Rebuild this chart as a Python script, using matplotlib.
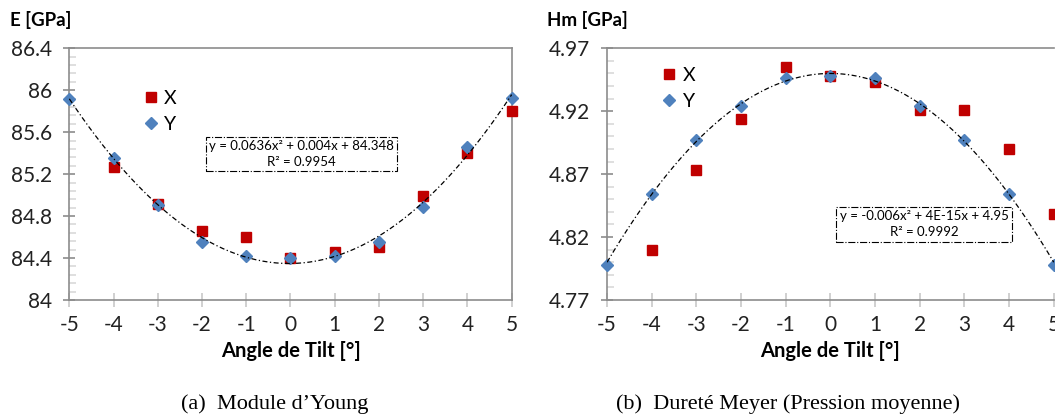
import matplotlib
matplotlib.use('Agg')
import matplotlib.pyplot as plt
from matplotlib.ticker import FormatStrFormatter
import numpy as np

plt.rcParams['font.family'] = ['Lato', 'DejaVu Sans']
plt.rcParams['axes.unicode_minus'] = False

angles = [-5, -4, -3, -2, -1, 0, 1, 2, 3, 4, 5]

# Module d'Young (GPa)
E_x = [np.nan, 85.27, 84.92, 84.66, 84.60, 84.40, 84.46, 84.51, 84.99, 85.40, 85.80]
E_y = [85.92, 85.35, 84.91, 84.55, 84.42, 84.40, 84.42, 84.55, 84.89, 85.46, 85.93]
E_fit = [0.0636, 0.004, 84.348]
E_eq = "y = 0.0636x² + 0.004x + 84.348\nR² = 0.9954"

# Durete Meyer (GPa)
H_x = [np.nan, 4.810, 4.873, 4.914, 4.955, 4.948, 4.943, 4.921, 4.921, 4.890, 4.838]
H_y = [4.798, 4.854, 4.897, 4.924, 4.946, 4.948, 4.946, 4.924, 4.897, 4.854, 4.798]
H_fit = [-0.006, 4e-15, 4.95]
H_eq = "y = -0.006x² + 4E-15x + 4.95\nR² = 0.9992"

red = '#C00000'
blue = '#4F81BD'
spine_c = '#8C8C8C'
tick_c = '#C8C8C8'

fig = plt.figure(figsize=(10.55, 4.17), dpi=100)
ax1 = fig.add_axes([0.0657, 0.2806, 0.4193, 0.6036])
ax2 = fig.add_axes([0.5754, 0.2806, 0.4234, 0.6036])


def draw(ax, xs, ys, fit, eq, ylim, step, minor, fmt, eq_pos, leg_pos, ylabel, ylabel_x):
    ax.plot(angles, xs, 's', color=red, markersize=7, label='X', clip_on=False, zorder=3)
    ax.plot(angles, ys, 'D', color=blue, markersize=6, label='Y', clip_on=False, zorder=4)
    xx = np.linspace(-5, 5, 200)
    ax.plot(xx, np.polyval(fit, xx), color='black', lw=0.9,
            dashes=(4, 2, 1, 2), zorder=5)
    ax.set_xlim(-5, 5)
    ax.set_ylim(*ylim)
    ax.set_xticks(angles)
    ax.set_yticks(np.round(np.arange(ylim[0], ylim[1] + step / 2, step), 3))
    ax.set_yticks(np.arange(ylim[0], ylim[1] + 1e-9, minor), minor=True)
    ax.yaxis.set_major_formatter(FormatStrFormatter(fmt))
    for s in ax.spines.values():
        s.set_color(spine_c)
        s.set_linewidth(1.2)
    ax.tick_params(axis='x', direction='inout', length=10, width=1.2, color=tick_c,
                   labelsize=15, pad=6, labelcolor='#222222')
    ax.tick_params(axis='y', which='major', direction='inout', length=9, width=1.2,
                   color=spine_c, labelsize=15, pad=8, labelcolor='#222222')
    ax.tick_params(axis='y', which='minor', direction='in', length=5, width=1.2,
                   color='#D9D9D9')
    ax.tick_params(axis='x', which='minor', bottom=False)
    ax.set_xlabel('Angle de Tilt [°]', fontsize=14.5, fontweight='bold', labelpad=4)
    ax.text(eq_pos[0], eq_pos[1], eq, transform=ax.transAxes, ha='center', va='center',
            fontsize=9.5, linespacing=1.4, zorder=6,
            bbox=dict(boxstyle='square,pad=0.25', facecolor='white', edgecolor='black',
                      linestyle='-.', linewidth=0.8))
    ax.legend(loc='center', bbox_to_anchor=leg_pos, frameon=False, fontsize=14,
              handletextpad=0.1, handlelength=1.2, labelspacing=0.45)
    fig.text(ylabel_x, 1 - 20 / 417, ylabel, fontsize=13.5, fontweight='bold',
             ha='left', va='center')


draw(ax1, E_x, E_y, E_fit, E_eq, (84, 86.4), 0.4, 0.08, '%g',
     (0.525, 0.58), (0.2, 0.75), 'E [GPa]', 10 / 1055)
draw(ax2, H_x, H_y, H_fit, H_eq, (4.77, 4.97), 0.05, 0.01, '%.2f',
     (0.71, 0.30), (0.155, 0.84), 'Hm [GPa]', 547 / 1055)
ax2.spines['right'].set_visible(False)

fig.text(275 / 1055, 1 - 404 / 417, "(a)  Module d’Young", family='Liberation Serif',
         fontsize=16, ha='center', va='center')
fig.text(788 / 1055, 1 - 404 / 417, "(b)  Dureté Meyer (Pression moyenne)",
         family='Liberation Serif', fontsize=16, ha='center', va='center')

fig.savefig('out.png', dpi=100)
